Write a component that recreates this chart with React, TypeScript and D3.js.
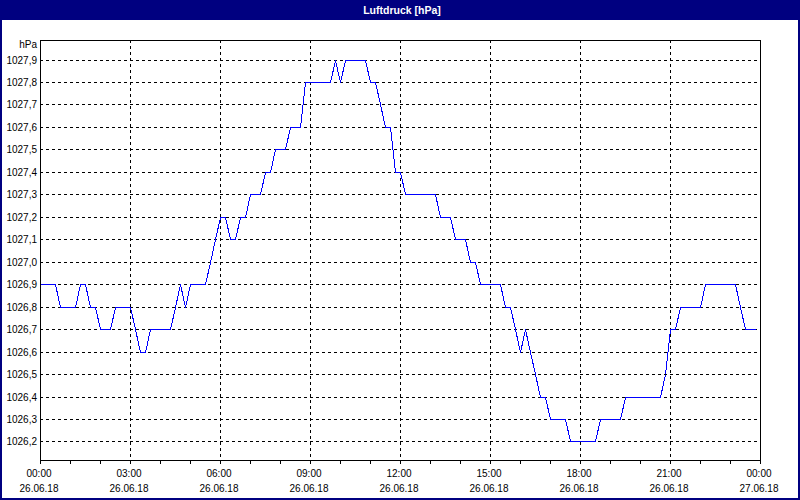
import { useRef, useEffect } from "react";
import * as d3 from "d3";

const width = 800;
const height = 500;

const title = "Luftdruck [hPa]";
const unit = "hPa";

const startTime = new Date(2018, 5, 26, 0, 0);
const endTime = new Date(2018, 5, 27, 0, 0);
const stepMinutes = 10;

// Luftdruck in hPa, ein Wert alle 10 Minuten ab 26.06.18 00:00
const pressure = [
  1026.9, 1026.9, 1026.9, 1026.9, 1026.8, 1026.8, 1026.8, 1026.8, 1026.9, 1026.9, 1026.8, 1026.8,
  1026.7, 1026.7, 1026.7, 1026.8, 1026.8, 1026.8, 1026.8, 1026.7, 1026.6, 1026.6, 1026.7, 1026.7,
  1026.7, 1026.7, 1026.7, 1026.8, 1026.9, 1026.8, 1026.9, 1026.9, 1026.9, 1026.9, 1027.0, 1027.1,
  1027.2, 1027.2, 1027.1, 1027.1, 1027.2, 1027.2, 1027.3, 1027.3, 1027.3, 1027.4, 1027.4, 1027.5,
  1027.5, 1027.5, 1027.6, 1027.6, 1027.6, 1027.8, 1027.8, 1027.8, 1027.8, 1027.8, 1027.8, 1027.9,
  1027.8, 1027.9, 1027.9, 1027.9, 1027.9, 1027.9, 1027.8, 1027.8, 1027.7, 1027.6, 1027.6, 1027.4,
  1027.4, 1027.3, 1027.3, 1027.3, 1027.3, 1027.3, 1027.3, 1027.3, 1027.2, 1027.2, 1027.2, 1027.1,
  1027.1, 1027.1, 1027.0, 1027.0, 1026.9, 1026.9, 1026.9, 1026.9, 1026.9, 1026.8, 1026.8, 1026.7,
  1026.6, 1026.7, 1026.6, 1026.5, 1026.4, 1026.4, 1026.3, 1026.3, 1026.3, 1026.3, 1026.2, 1026.2,
  1026.2, 1026.2, 1026.2, 1026.2, 1026.3, 1026.3, 1026.3, 1026.3, 1026.3, 1026.4, 1026.4, 1026.4,
  1026.4, 1026.4, 1026.4, 1026.4, 1026.4, 1026.5, 1026.7, 1026.7, 1026.8, 1026.8, 1026.8, 1026.8,
  1026.8, 1026.9, 1026.9, 1026.9, 1026.9, 1026.9, 1026.9, 1026.9, 1026.8, 1026.7, 1026.7, 1026.7,
];

const yTicks = [
  1026.2, 1026.3, 1026.4, 1026.5, 1026.6, 1026.7, 1026.8, 1026.9, 1027.0,
  1027.1, 1027.2, 1027.3, 1027.4, 1027.5, 1027.6, 1027.7, 1027.8, 1027.9,
];

const navy = "#000080";
const lineColor = "#0000ff";
const font = "'Liberation Sans', Arial, sans-serif";

const deLocale = d3.formatLocale({
  decimal: ",",
  thousands: ".",
  grouping: [3],
  currency: ["", " €"],
});
const fmtValue = deLocale.format(".1f");
const fmtTime = d3.timeFormat("%H:%M");
const fmtDate = d3.timeFormat("%d.%m.%y");

const PressureChart = () => {
  const svgRef = useRef<SVGSVGElement | null>(null);

  useEffect(() => {
    if (!svgRef.current) return;
    const svg = d3.select(svgRef.current);
    svg.selectAll("*").remove();

    const plot = { left: 40, right: 760, top: 40, bottom: 460 };

    const data = pressure.map((v, i) => ({
      time: d3.timeMinute.offset(startTime, i * stepMinutes),
      value: v,
    }));

    const [lo, hi] = d3.extent(pressure) as [number, number];
    const pad = 0.0846;

    const x = d3
      .scaleTime()
      .domain([startTime, endTime])
      .range([plot.left + 0.5, plot.right + 0.5]);

    const y = d3
      .scaleLinear()
      .domain([lo - pad, hi + pad])
      .range([plot.bottom + 0.5, plot.top + 0.5]);

    // Fensterrahmen und Titelleiste
    svg
      .append("rect")
      .attr("x", 0)
      .attr("y", 0)
      .attr("width", width)
      .attr("height", height)
      .attr("fill", "#ffffff");
    svg
      .append("rect")
      .attr("x", 0)
      .attr("y", 0)
      .attr("width", width)
      .attr("height", 20)
      .attr("fill", navy);
    svg
      .append("rect")
      .attr("x", 1)
      .attr("y", 1)
      .attr("width", width - 2)
      .attr("height", height - 2)
      .attr("fill", "none")
      .attr("stroke", navy)
      .attr("stroke-width", 2);
    svg
      .append("text")
      .attr("x", width / 2 + 2)
      .attr("y", 14)
      .attr("text-anchor", "middle")
      .attr("fill", "#ffffff")
      .attr("font-family", font)
      .attr("font-weight", "bold")
      .attr("font-size", "10.5px")
      .text(title);

    const g = svg.append("g").attr("shape-rendering", "crispEdges");

    // Gitter
    g.selectAll("line.hgrid")
      .data(yTicks)
      .enter()
      .append("line")
      .attr("x1", plot.left)
      .attr("x2", plot.right)
      .attr("y1", (d) => Math.round(y(d)) + 0.5)
      .attr("y2", (d) => Math.round(y(d)) + 0.5)
      .attr("stroke", "#000")
      .attr("stroke-dasharray", "3,3");

    const majorTicks = x.ticks(d3.timeHour.every(3)!);
    const minorTicks = x.ticks(d3.timeHour.every(1)!);

    g.selectAll("line.vgrid")
      .data(majorTicks.slice(1, -1))
      .enter()
      .append("line")
      .attr("x1", (d) => x(d))
      .attr("x2", (d) => x(d))
      .attr("y1", plot.top)
      .attr("y2", plot.bottom)
      .attr("stroke", "#000")
      .attr("stroke-dasharray", "3,3");

    // Zeitachse Ticks
    g.selectAll("line.tick")
      .data(minorTicks)
      .enter()
      .append("line")
      .attr("x1", (d) => x(d))
      .attr("x2", (d) => x(d))
      .attr("y1", plot.bottom)
      .attr("y2", plot.bottom + 4)
      .attr("stroke", "#000");

    // Rahmen
    g.append("rect")
      .attr("x", plot.left + 0.5)
      .attr("y", plot.top + 0.5)
      .attr("width", plot.right - plot.left)
      .attr("height", plot.bottom - plot.top)
      .attr("fill", "none")
      .attr("stroke", "#000");

    // Messkurve
    const line = d3
      .line<{ time: Date; value: number }>()
      .x((d) => x(d.time))
      .y((d) => Math.round(y(d.value)) + 0.5);

    g.append("path")
      .datum(data)
      .attr("d", line)
      .attr("fill", "none")
      .attr("stroke", lineColor)
      .attr("stroke-width", 1);

    // Beschriftung y
    const labels = svg.append("g").attr("font-family", font).attr("font-size", "10px").attr("fill", "#000");

    labels
      .selectAll("text.ylab")
      .data(yTicks)
      .enter()
      .append("text")
      .attr("x", 37)
      .attr("y", (d) => Math.round(y(d)) + 4)
      .attr("text-anchor", "end")
      .text((d) => fmtValue(d));

    labels
      .append("text")
      .attr("x", 37)
      .attr("y", 48)
      .attr("text-anchor", "end")
      .text(unit);

    // Beschriftung x
    labels
      .selectAll("text.xtime")
      .data(majorTicks)
      .enter()
      .append("text")
      .attr("x", (d) => x(d) - 1.5)
      .attr("y", 477)
      .attr("text-anchor", "middle")
      .text((d) => fmtTime(d));

    labels
      .selectAll("text.xdate")
      .data(majorTicks)
      .enter()
      .append("text")
      .attr("x", (d) => x(d) - 1.5)
      .attr("y", 492)
      .attr("text-anchor", "middle")
      .text((d) => fmtDate(d));
  }, []);

  return <svg ref={svgRef} width={width} height={height} style={{ display: "block" }}></svg>;
};

export default function App() {
  return (
    <>
      <style>{`body { margin: 0; }`}</style>
      <PressureChart />
    </>
  );
}
